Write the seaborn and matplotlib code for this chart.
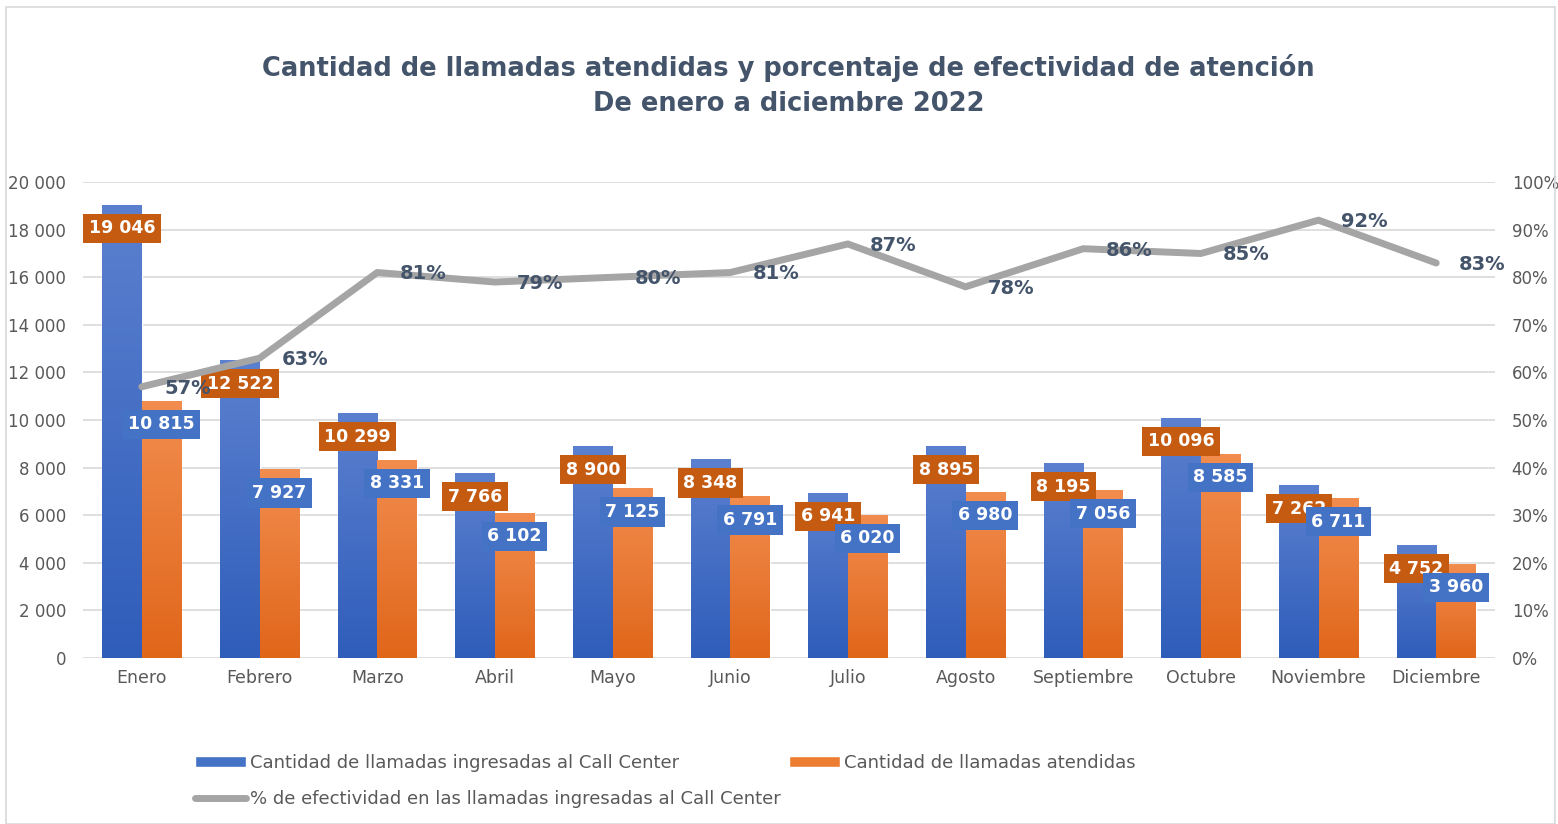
import numpy as np
import pandas as pd
import matplotlib
matplotlib.use('Agg')
import matplotlib.pyplot as plt
import seaborn as sns
from matplotlib.patches import Rectangle, Patch
from matplotlib.lines import Line2D
from matplotlib.colors import LinearSegmentedColormap

meses = ['Enero', 'Febrero', 'Marzo', 'Abril', 'Mayo', 'Junio', 'Julio',
         'Agosto', 'Septiembre', 'Octubre', 'Noviembre', 'Diciembre']
ingresadas = [19046, 12522, 10299, 7766, 8900, 8348, 6941, 8895, 8195, 10096, 7262, 4752]
atendidas = [10815, 7927, 8331, 6102, 7125, 6791, 6020, 6980, 7056, 8585, 6711, 3960]
efectividad = [0.57, 0.63, 0.81, 0.79, 0.80, 0.81, 0.87, 0.78, 0.86, 0.85, 0.92, 0.83]

s_ing = 'Cantidad de llamadas ingresadas al Call Center'
s_ate = 'Cantidad de llamadas atendidas'
s_pct = '% de efectividad en las llamadas ingresadas al Call Center'

df = pd.DataFrame({
    'mes': meses * 2,
    'serie': [s_ing] * 12 + [s_ate] * 12,
    'valor': ingresadas + atendidas,
})

azul = '#4472C4'
naranja = '#ED7D31'
gris = '#A5A5A5'
texto = '#44546A'

sns.set_theme(style='white')
plt.rcParams['font.family'] = ['DejaVu Sans']

fig = plt.figure(figsize=(15.58, 8.24), dpi=100)
ax = fig.add_axes([0.0533, 0.2015, 0.9063, 0.5775])

sns.barplot(data=df, x='mes', y='valor', hue='serie', palette=[azul, naranja],
            width=0.67, dodge=True, ax=ax, legend=False, saturation=1)

# degradado en las barras
grad_azul = LinearSegmentedColormap.from_list('ga', ['#2F5DBA', '#5B80CF'])
grad_nar = LinearSegmentedColormap.from_list('gn', ['#E0661A', '#F28D4F'])
grad = np.linspace(0, 1, 256).reshape(-1, 1)
for i, p in enumerate(ax.patches[:24]):
    cmap = grad_azul if i < 12 else grad_nar
    x0, y0 = p.get_x(), p.get_y()
    w, h = p.get_width(), p.get_height()
    im = ax.imshow(grad, cmap=cmap, origin='lower', aspect='auto',
                   extent=[x0, x0 + w, y0, y0 + h], zorder=p.get_zorder() + 0.1)
    im.set_clip_path(p)

ax.set_xlim(-0.5, 11.5)
ax.set_ylim(0, 20000)
ax.set_yticks(range(0, 20001, 2000))
ax.set_yticklabels([f'{v:,}'.replace(',', ' ') for v in range(0, 20001, 2000)])
ax.set_xlabel('')
ax.set_ylabel('')
ax.grid(axis='y', color='#D9D9D9', linewidth=1.2)
ax.set_axisbelow(True)
for s in ax.spines.values():
    s.set_visible(False)
ax.tick_params(axis='both', colors='#595959', labelsize=12, length=0)
ax.tick_params(axis='x', pad=8, labelsize=12.5)
ax.tick_params(axis='y', pad=12)

# etiquetas de barras
for i in range(12):
    ax.annotate(f'{ingresadas[i]:,}'.replace(',', ' '), (i - 0.1675, ingresadas[i]),
                xytext=(0, -17), textcoords='offset points', ha='center', va='center',
                color='white', fontsize=12.5, fontweight='bold', zorder=5,
                bbox=dict(boxstyle='square,pad=0.32', fc='#C55A11', ec='none'))
for i in range(12):
    ax.annotate(f'{atendidas[i]:,}'.replace(',', ' '), (i + 0.1675, atendidas[i]),
                xytext=(0, -17), textcoords='offset points', ha='center', va='center',
                color='white', fontsize=12.5, fontweight='bold', zorder=6,
                bbox=dict(boxstyle='square,pad=0.32', fc=azul, ec='none'))

ax2 = ax.twinx()
sns.lineplot(x=np.arange(12), y=efectividad, color=gris, linewidth=5, ax=ax2, zorder=4)
ax2.set_ylim(0, 1)
ax2.set_yticks(np.arange(0, 1.01, 0.1))
ax2.set_yticklabels([f'{int(round(v * 100))}%' for v in np.arange(0, 1.01, 0.1)])
ax2.tick_params(axis='y', colors='#595959', labelsize=12, length=0, pad=12)
for s in ax2.spines.values():
    s.set_visible(False)
ax2.set_ylabel('')
ax2.grid(False)
for i in range(12):
    ax2.annotate(f'{int(round(efectividad[i] * 100))}%', (i, efectividad[i]),
                 xytext=(16, -1), textcoords='offset points', ha='left', va='center',
                 color=texto, fontsize=14, fontweight='bold', zorder=7)

fig.suptitle('Cantidad de llamadas atendidas y porcentaje de efectividad de atención\n'
             'De enero a diciembre 2022', x=0.506, y=0.935, color=texto,
             fontsize=18.5, fontweight='bold', linespacing=1.45)

handles = [Patch(facecolor=azul), Line2D([], [], color=gris, linewidth=5),
           Patch(facecolor=naranja)]
labels = [s_ing, s_pct, s_ate]
fig.legend(handles, labels, ncol=2, loc='upper left', bbox_to_anchor=(0.115, 0.105),
           frameon=False, fontsize=13, labelcolor='#595959', handlelength=2.8,
           handletextpad=0.2, columnspacing=0.5, labelspacing=1.0,
           handleheight=0.6)

fig.patches.append(Rectangle((0.004, 0.0), 0.994, 0.991, transform=fig.transFigure,
                             fill=False, edgecolor='#D9D9D9', linewidth=1.2))

fig.savefig('out.png', dpi=100, facecolor='white')
